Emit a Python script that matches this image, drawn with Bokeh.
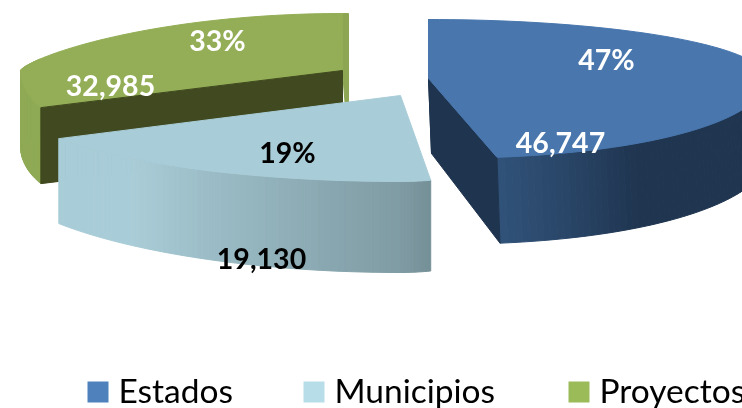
from math import sin, cos, radians
from bokeh.plotting import figure
from bokeh.models import Range1d, ColumnDataSource
from bokeh.core.properties import value
from bokeh.embed import file_html
from bokeh.resources import INLINE

categories = ["Estados", "Municipios", "Proyectos"]
values = [46747, 19130, 32985]
percent_labels = ["47%", "19%", "33%"]
value_labels = ["46,747", "19,130", "32,985"]

legend_colors = ["#4F81BD", "#B7DDE8", "#9BBB59"]
top_colors = ["#4876AD", "#A9CDD8", "#93AE56"]

total = sum(values)
start = 0.0
angles = []
for v in values:
    end = start + 360.0 * v / total
    angles.append((start, end))
    start = end


def rim(deg, c):
    t = radians(deg)
    s, co = sin(t), cos(t)
    upper = co > 0
    ax = c.get("ax_up", 1) if upper else c.get("ax_lo", 1)
    ay = c.get("ay_up", 1) if upper else c.get("ay_lo", 1)
    rx = c["rx_r"] if s >= 0 else c["rx_l"]
    x = c["cx"] + rx * (1 if s >= 0 else -1) * abs(s) ** ax
    if upper:
        y = c["cy"] - c.get("ry_up", 0) * co ** ay
    else:
        y = c["cy"] + c["ry_lo"] * (-co) ** ay
    return x, y


def arc(a, b, c, n=90):
    return [rim(a + (b - a) * i / n, c) for i in range(n + 1)]


def mix(c1, c2, f):
    f = max(0.0, min(1.0, f))
    p = [int(c1[i:i + 2], 16) for i in (1, 3, 5)]
    q = [int(c2[i:i + 2], 16) for i in (1, 3, 5)]
    return "#%02x%02x%02x" % tuple(round(u + (w - u) * f) for u, w in zip(p, q))


p = figure(width=742, height=408, x_range=Range1d(0, 742), y_range=Range1d(408, 0),
           toolbar_location=None, output_backend="svg", min_border=0,
           styles={"position": "fixed", "left": "0px", "top": "0px"})
p.axis.visible = False
p.grid.visible = False
p.outline_line_color = None
p.background_fill_color = "#FFFFFF"
p.border_fill_color = "#FFFFFF"


def poly(points, color):
    p.patch([q[0] for q in points], [q[1] for q in points], fill_color=color,
            line_color=color, line_width=1)


def wall(a, b, top, bottom, color_at, n=70):
    for i in range(n):
        a0, a1 = a + (b - a) * i / n, a + (b - a) * (i + 1) / n
        t0, t1 = rim(a0, top), rim(a1, top)
        b0, b1 = rim(a0, bottom), rim(a1, bottom)
        poly([t0, t1, b1, b0], color_at(i / n))


# ---- Proyectos (back left)
a0, a1 = angles[2]
g_top = dict(cx=342, cy=70, rx_r=322, rx_l=322, ry_up=57, ry_lo=74, ax_lo=0.45, ay_up=1.5)
g_bot = dict(g_top, cy=146)
wall(a0, 290, g_top, g_bot, lambda f: "#8FAA55", n=30)
cg = (g_top["cx"], g_top["cy"])
cgb = (g_bot["cx"], g_bot["cy"])
poly([cg, rim(a1 - 0.001, g_top), (rim(a1 - 0.001, g_top)[0] + 6, rim(a1 - 0.001, g_top)[1]),
      (cgb[0] + 6, cgb[1])], "#8CA653")
poly([cg] + arc(a0, a1 - 0.001, g_top), top_colors[2])
poly([cg, rim(a0, g_top), rim(a0, g_bot), cgb], "#40491F")

# ---- Municipios (front left)
a0, a1 = angles[1]
m_top = dict(cx=400, cy=95, rx_r=178, rx_l=395, ry_lo=86)
m_bot = dict(m_top, cy=185, ry_lo=87, ay_lo=1.2)
wall(a0, a1, m_top, m_bot,
     lambda f: mix("#769098", "#A9CDD8", min(1.0, f / 0.75)))
poly([(m_top["cx"], m_top["cy"])] + arc(a0, a1, m_top), top_colors[1])

# ---- Estados (right)
a0, a1 = angles[0]
e_top = dict(cx=428, cy=78, rx_r=338, rx_l=338, ry_up=59, ry_lo=80, ax_lo=0.9)
e_bot = dict(e_top, cx=431, cy=153, ry_lo=91, ry_up=59)
wall(85, a1, e_top, e_bot, lambda f: mix("#1F3550", "#31537A", (f - 0.69) / 0.31))
poly([(e_top["cx"], e_top["cy"]), rim(a1, e_top), rim(a1, e_bot), (e_bot["cx"], e_bot["cy"])], "#1F344F")
poly([(e_top["cx"], e_top["cy"]), rim(0, e_top), rim(0, e_bot), (e_bot["cx"], e_bot["cy"])], "#1F344F")
poly([(e_top["cx"], e_top["cy"])] + arc(a0, a1, e_top), top_colors[0])

# ---- Data labels
lab = ColumnDataSource(dict(
    x=[606, 287, 217, 560, 261, 110],
    y=[58, 151, 39, 142, 258, 85],
    t=percent_labels + value_labels,
    c=["#FFFFFF", "#000000", "#FFFFFF", "#FFFFFF", "#000000", "#FFFFFF"],
))
p.text("x", "y", text="t", source=lab, text_color="c", text_font=value("Lato"),
       text_font_style="bold", text_font_size="28.5px", text_align="center", text_baseline="middle")

# ---- Legend
p.scatter([97.5, 313.5, 578.5], [391.5, 391.5, 391.5], marker="square", size=21,
          fill_color=legend_colors, line_color=None)
p.text([118, 334, 599], [389, 389, 389], text=categories, text_color="#000000",
       text_font=value("Lato"), text_font_size="33.5px", text_align="left",
       text_baseline="middle")

open("out.html", "w").write(file_html(p, INLINE))
